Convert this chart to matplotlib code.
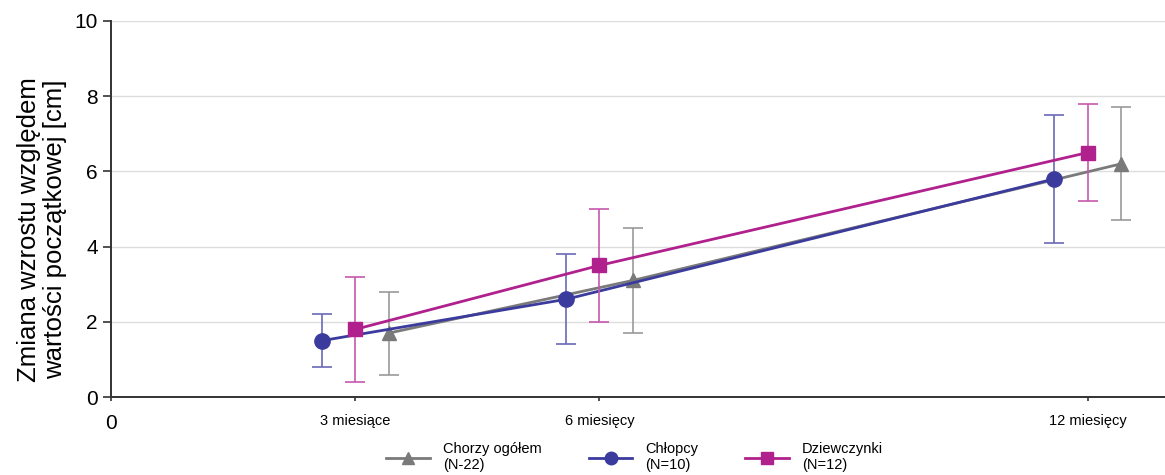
import matplotlib
matplotlib.use("Agg")
import matplotlib.pyplot as plt
from matplotlib.lines import Line2D
import numpy as np

plt.rcParams['font.family'] = ['Liberation Sans', 'DejaVu Sans']

# dane
miesiace = [3, 6, 12]
etykiety_x = ["0", "3 miesiące", "6 miesięcy", "12 miesięcy"]
pozycje_x = [0, 3, 6, 12]

chorzy = [1.7, 3.1, 6.2]
chorzy_sd = [1.1, 1.4, 1.5]
chlopcy = [1.5, 2.6, 5.8]
chlopcy_sd = [0.7, 1.2, 1.7]
dziewczynki = [1.8, 3.5, 6.5]
dziewczynki_sd = [1.4, 1.5, 1.3]

szary = "#7a7a7a"
niebieski = "#3b3b9e"
magenta = "#b0218e"

fig = plt.figure(figsize=(11.65, 4.75), dpi=100)
ax = fig.add_axes([0.0953, 0.164, 0.9047, 0.792])

x = np.array(miesiace, dtype=float)
przes = 0.41

# Chorzy ogółem
ax.errorbar(x + przes, chorzy, yerr=chorzy_sd, color=szary, marker="^", markersize=10,
            linewidth=2, elinewidth=1.2, capsize=7, capthick=1.2, ecolor="#9a9a9a", zorder=3)
# Chłopcy
ax.errorbar(x - przes, chlopcy, yerr=chlopcy_sd, color=niebieski, marker="o", markersize=11,
            linewidth=2, elinewidth=1.2, capsize=7, capthick=1.2, ecolor="#6a6ab8", zorder=4)
# Dziewczynki
ax.errorbar(x, dziewczynki, yerr=dziewczynki_sd, color=magenta, marker="s", markersize=10,
            linewidth=2, elinewidth=1.2, capsize=7, capthick=1.2, ecolor="#c657ad", zorder=5)

ax.set_xlim(0, 12.95)
ax.set_ylim(0, 10)
ax.set_yticks([0, 2, 4, 6, 8, 10])
ax.set_xticks(pozycje_x)
ax.set_xticklabels(etykiety_x)
for i, t in enumerate(ax.get_xticklabels()):
    t.set_fontsize(15 if i == 0 else 10.5)
ax.tick_params(axis="y", labelsize=15, length=6, color="#333333", width=1.2)
ax.tick_params(axis="x", length=3, color="#333333", width=1.2, pad=9)
ax.yaxis.grid(True, color="#dddddd", linewidth=1)
ax.set_axisbelow(True)
for s in ["top", "right"]:
    ax.spines[s].set_visible(False)
for s in ["left", "bottom"]:
    ax.spines[s].set_color("#333333")
    ax.spines[s].set_linewidth(1.4)

ax.set_ylabel("Zmiana wzrostu względem\nwartości początkowej [cm]", fontsize=18.5,
              linespacing=1.1)
ax.yaxis.set_label_coords(-0.042, 0.445)

uchwyty = [
    Line2D([], [], color=szary, marker="^", markersize=9, linewidth=2),
    Line2D([], [], color=niebieski, marker="o", markersize=9, linewidth=2),
    Line2D([], [], color=magenta, marker="s", markersize=9, linewidth=2),
]
opisy = ["Chorzy ogółem\n(N-22)", "Chłopcy\n(N=10)", "Dziewczynki\n(N=12)"]
ax.legend(uchwyty, opisy, loc="upper center", bbox_to_anchor=(0.497, -0.085), ncol=3,
          frameon=False, fontsize=10.5, handlelength=3, columnspacing=3.2, handletextpad=0.9)

fig.savefig("out.png", dpi=100)
